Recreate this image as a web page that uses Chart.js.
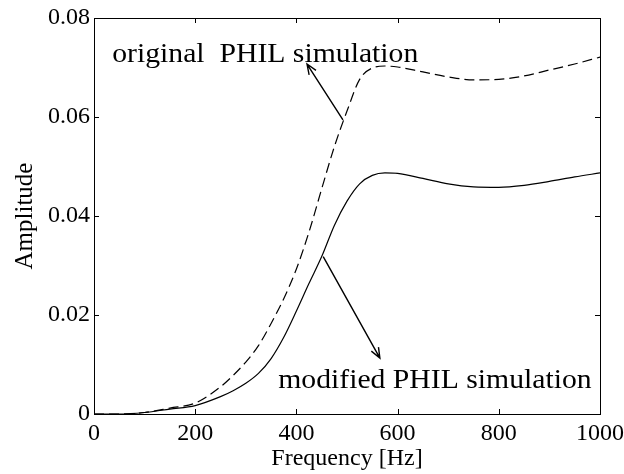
<!DOCTYPE html>
<html>
<head>
<meta charset="utf-8">
<script src="https://cdn.jsdelivr.net/npm/chart.js@4.4.0/dist/chart.umd.min.js"></script>
<style>
  html, body { margin: 0; padding: 0; background: #fff; }
  #wrap { width: 624px; height: 474px; }
</style>
</head>
<body>
<div id="wrap"><canvas id="ampChart" width="624" height="474"></canvas></div>
<script>
const freq = [0, 50, 100, 150, 200, 250, 275, 300, 325, 350, 375, 400, 425, 450, 475, 500, 525, 550, 575, 600, 650, 700, 750, 800, 850, 900, 950, 1000];
const original = [0, 0, 0.0003, 0.0012, 0.0022, 0.0055, 0.0078, 0.0105, 0.0138, 0.0183, 0.0233, 0.0293, 0.0368, 0.0455, 0.054, 0.0612, 0.0676, 0.0699, 0.0703, 0.0701, 0.0691, 0.0681, 0.0675, 0.0676, 0.0683, 0.0695, 0.0707, 0.0721];
const modified = [0, 0, 0.0003, 0.001, 0.0017, 0.0035, 0.0047, 0.0062, 0.0082, 0.0112, 0.0155, 0.0208, 0.0264, 0.0318, 0.0381, 0.043, 0.0465, 0.0482, 0.0487, 0.0486, 0.0476, 0.0465, 0.0459, 0.0458, 0.0462, 0.047, 0.0479, 0.0487];
const xTicks = [0, 200, 400, 600, 800, 1000];
const yTicks = [0, 0.02, 0.04, 0.06, 0.08];

// annotation text + arrows, in data units (Hz, amplitude)
const noteOriginal = { text: "original  PHIL simulation", x: 36, y: 0.0712, from: [492, 0.0594], to: [421, 0.0707] };
const noteModified = { text: "modified PHIL simulation", x: 364, y: 0.0052, from: [453, 0.0318], to: [565, 0.0113] };

const serif = "'Liberation Serif', 'Times New Roman', serif";

function toPts(ys) {
  return freq.map((f, i) => ({ x: f, y: ys[i] }));
}

const framePlugin = {
  id: "frame",
  afterDatasetsDraw(chart) {
    const ctx = chart.ctx;
    const a = chart.chartArea;
    const xs = chart.scales.x, ys = chart.scales.y;
    ctx.save();
    ctx.strokeStyle = "#000";
    ctx.lineWidth = 1;
    ctx.strokeRect(a.left + 0.5, a.top + 0.5, a.right - a.left, a.bottom - a.top);
    const tl = 5;
    ctx.beginPath();
    xTicks.forEach(v => {
      const px = Math.round(xs.getPixelForValue(v)) + 0.5;
      ctx.moveTo(px, a.bottom); ctx.lineTo(px, a.bottom - tl);
      ctx.moveTo(px, a.top); ctx.lineTo(px, a.top + tl);
    });
    yTicks.forEach(v => {
      const py = Math.round(ys.getPixelForValue(v)) + 0.5;
      ctx.moveTo(a.left, py); ctx.lineTo(a.left + tl, py);
      ctx.moveTo(a.right, py); ctx.lineTo(a.right - tl, py);
    });
    ctx.stroke();

    // notes (the scan is a bit stretched sideways, so widen the text)
    ctx.fillStyle = "#000";
    ctx.font = "27px " + serif;
    ctx.textBaseline = "alphabetic";
    ctx.textAlign = "left";
    [noteOriginal, noteModified].forEach(n => {
      ctx.save();
      ctx.translate(xs.getPixelForValue(n.x), ys.getPixelForValue(n.y));
      ctx.scale(1.1, 1);
      ctx.fillText(n.text, 0, 0);
      ctx.restore();
      const x1 = xs.getPixelForValue(n.from[0]), y1 = ys.getPixelForValue(n.from[1]);
      const x2 = xs.getPixelForValue(n.to[0]), y2 = ys.getPixelForValue(n.to[1]);
      ctx.lineWidth = 1.4;
      ctx.beginPath();
      ctx.moveTo(x1, y1); ctx.lineTo(x2, y2);
      const ang = Math.atan2(y2 - y1, x2 - x1);
      const h = 11;
      ctx.moveTo(x2 - h * Math.cos(ang - 0.38), y2 - h * Math.sin(ang - 0.38));
      ctx.lineTo(x2, y2);
      ctx.lineTo(x2 - h * Math.cos(ang + 0.38), y2 - h * Math.sin(ang + 0.38));
      ctx.stroke();
    });
    ctx.restore();
  }
};

new Chart(document.getElementById("ampChart"), {
  type: "line",
  data: {
    datasets: [
      {
        label: "original PHIL simulation",
        data: toPts(original),
        borderColor: "#000",
        borderWidth: 1.2,
        borderDash: [10, 5],
        pointRadius: 0,
        cubicInterpolationMode: "monotone",
        fill: false
      },
      {
        label: "modified PHIL simulation",
        data: toPts(modified),
        borderColor: "#000",
        borderWidth: 1.2,
        pointRadius: 0,
        cubicInterpolationMode: "monotone",
        fill: false
      }
    ]
  },
  options: {
    responsive: false,
    animation: false,
    layout: { padding: { top: 18, right: 24, left: 0, bottom: 0 } },
    plugins: { legend: { display: false }, tooltip: { enabled: false } },
    scales: {
      x: {
        type: "linear",
        min: 0, max: 1000,
        afterFit(scale) { scale.height = 60; scale.paddingLeft = 0; scale.paddingRight = 0; },
        afterBuildTicks(scale) { scale.ticks = xTicks.map(v => ({ value: v })); },
        grid: { display: false, drawTicks: false },
        border: { display: false },
        ticks: {
          color: "#000",
          padding: 5,
          maxRotation: 0,
          font: { family: serif, size: 24 },
          callback: v => String(v)
        },
        title: {
          display: true,
          text: "Frequency [Hz]",
          color: "#000",
          font: { family: serif, size: 24 },
          padding: { top: 0, bottom: 1 }
        }
      },
      y: {
        min: 0, max: 0.08,
        afterFit(scale) { scale.width = 94; scale.paddingTop = 0; scale.paddingBottom = 0; },
        afterBuildTicks(scale) { scale.ticks = yTicks.map(v => ({ value: v })); },
        grid: { display: false, drawTicks: false },
        border: { display: false },
        ticks: {
          color: "#000",
          padding: 4,
          font: { family: serif, size: 24 },
          callback: v => (v === 0 ? "0" : v.toFixed(2))
        },
        title: {
          display: true,
          text: "Amplitude",
          color: "#000",
          font: { family: serif, size: 25 },
          padding: { top: 10, bottom: 0 }
        }
      }
    }
  },
  plugins: [framePlugin]
});
</script>
</body>
</html>
